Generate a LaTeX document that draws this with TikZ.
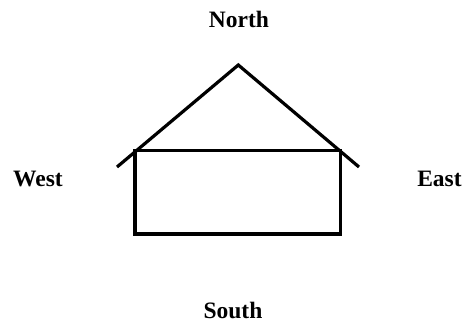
\documentclass[tikz,border=0pt]{standalone}
\usepackage{fontspec}
\setmainfont{Liberation Serif}
\begin{document}
\begin{tikzpicture}[x=1pt,y=-1pt,
  wall/.style={line width=3.2pt},
  dir/.style={font=\fontsize{23.5}{25}\selectfont\bfseries, anchor=base, inner sep=0pt}]
\useasboundingbox (0,0) rectangle (462,322);
\coordinate (apex) at (238.3,65);
\coordinate (eaveL) at (117,167);
\coordinate (eaveR) at (359,167);
\coordinate (tl) at (135,150.7);
\coordinate (br) at (340.7,234);
\draw[wall] (tl) rectangle (br);
\draw[wall, line join=miter] (eaveL) -- (apex) -- (eaveR);
\node[dir] (north) at (239,27) {North};
\node[dir] (west) at (38,186) {West};
\node[dir] (east) at (439.5,186) {East};
\node[dir] (south) at (233,318) {South};
\end{tikzpicture}
\end{document}
